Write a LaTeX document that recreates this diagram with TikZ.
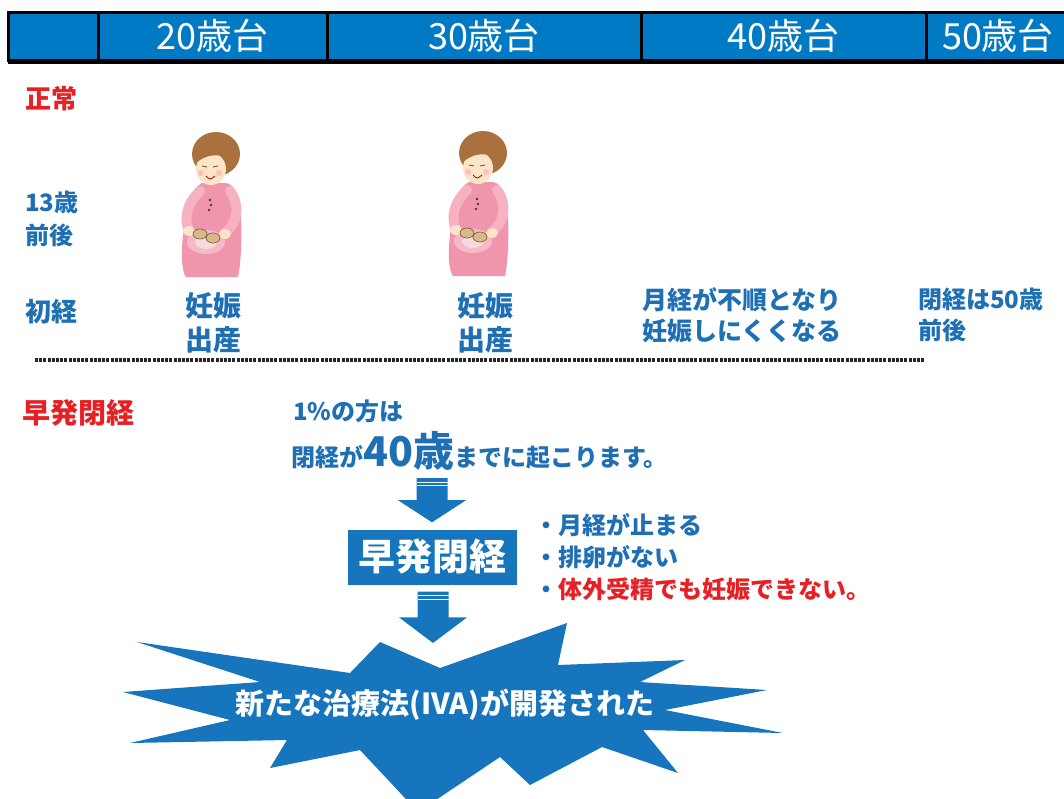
\documentclass[tikz,border=0pt]{standalone}
\usepackage{fontspec}
\setmainfont{Noto Sans CJK JP}
\usetikzlibrary{positioning,calc}

\definecolor{barblue}{RGB}{0,122,196}
\definecolor{boxblue}{RGB}{22,117,189}
\definecolor{txtblue}{RGB}{31,111,180}
\definecolor{alertred}{RGB}{230,32,36}
\definecolor{hair}{RGB}{170,112,62}
\definecolor{skin}{RGB}{252,228,200}
\definecolor{dress}{RGB}{240,150,172}
\definecolor{sleeve}{RGB}{246,178,192}
\definecolor{bootie}{RGB}{214,186,140}

\tikzstyle{cell} = [rectangle, draw=black, line width=3pt, fill=barblue, minimum height=48pt, inner sep=0pt, outer sep=0pt, anchor=north west, text=white, font=\fontsize{36}{40}\selectfont]
\tikzstyle{bluetxt} = [text=txtblue, font=\bfseries\fontsize{24}{33}\selectfont, align=left, anchor=west, inner sep=0pt]
\tikzstyle{redtxt} = [bluetxt, text=alertred, font=\bfseries\fontsize{26}{32}\selectfont]
\tikzstyle{stagetxt} = [bluetxt, font=\bfseries\fontsize{28}{34}\selectfont, align=center, anchor=center]
\tikzstyle{pofbox} = [rectangle, fill=boxblue, minimum width=169pt, minimum height=55pt, text=white, font=\bfseries\fontsize{37}{40}\selectfont]
\tikzstyle{bursttxt} = [text=white, inner sep=0pt, font=\bfseries\fontsize{29}{32}\selectfont]

% mother-to-be, placed at the centre of her hair
\tikzset{mother/.pic={
  \fill[hair] (0,0) ellipse (24 and 22);
  \fill[dress] (-14,29) .. controls (-24,34) and (-30,50) .. (-32,75)
    .. controls (-36,100) and (-34,118) .. (-30,123) -- (22,123)
    .. controls (26,105) and (27,60) .. (22,45)
    .. controls (20,35) and (16,30) .. (10,29) -- cycle;
  \fill[skin] (-5,15) ellipse (15 and 16);
  \fill[hair] (-20,9) .. controls (-18,-8) and (6,-10) .. (15,5)
    .. controls (4,-1) and (-10,0) .. (-20,9) -- cycle;
  \draw[hair!70!black, line width=0.8pt] (-14,12) -- (-9,13) (-3,13) -- (2,12);
  \draw[red!60!black, line width=0.8pt] (-10,22) .. controls (-6,26) .. (-1,22);
  \fill[red!25] (-15,19) circle (3) (3,19) circle (3);
  \draw[sleeve, line width=10pt, line cap=round] (-16,37) .. controls (-28,48) and (-32,62) .. (-28,74);
  \draw[sleeve, line width=10pt, line cap=round] (14,37) .. controls (24,50) and (22,68) .. (10,78);
  \fill[button] (-6,46) circle (1.3) (-5,51) circle (1.3) (-7,56) circle (1.3);
  % glow round the belly
  \fill[white, opacity=0.35] (-10,88) ellipse (19 and 12);
  \fill[white, opacity=0.45] (-10,88) ellipse (11 and 7);
  \fill[skin] (-27,77) ellipse (6 and 5) (9,80) ellipse (6 and 5);
  \filldraw[fill=bootie, draw=hair!70!black, line width=0.6pt] (-16,80) ellipse (7 and 5) (-3,84) ellipse (7 and 5);
}}
\colorlet{button}{hair!50!black}

% block arrow from the top point #1 down to the tip #2
\newcommand{\fatarrow}[2]{%
  \fill[boxblue] let \p1=(#1), \p2=(#2), \n1={0.5*(\y1+\y2)} in
    (\x2-15.5pt,\y1) -- (\x2+15.5pt,\y1) -- (\x2+15.5pt,\n1) -- (\x2+34pt,\n1)
    -- (\x2,\y2) -- (\x2-34pt,\n1) -- (\x2-15.5pt,\n1) -- cycle;
  \draw[white, line width=1pt] let \p1=(#1), \p2=(#2) in
    (\x2-15.5pt,\y1-4pt) -- (\x2+15.5pt,\y1-4pt)
    (\x2-15.5pt,\y1-7.5pt) -- (\x2+15.5pt,\y1-7.5pt);
}

\begin{document}
\begin{tikzpicture}[x=1pt, y=-1pt, node distance=0pt]
    \useasboundingbox (0,0) rectangle (1064,798);
    % Age bar
    \node [cell, minimum width=90pt] (c0) at (8,12) {};
    \node [cell, minimum width=229pt, right=0pt of c0] (c20) {20歳台};
    \node [cell, minimum width=314pt, right=0pt of c20] (c30) {30歳台};
    \node [cell, minimum width=285pt, right=0pt of c30] (c40) {40歳台};
    \node [cell, minimum width=144pt, right=0pt of c40] (c50) {50歳台\hspace{14pt}};
    \draw [line width=5pt] ([yshift=-1pt]c0.south west) -- ([yshift=-1pt]c50.south east);

    % Normal course
    \node [redtxt] (normal) at (25,99) {正常};
    \node [bluetxt] (age13) at (25,219) {13歳\\前後};
    \node [bluetxt, font=\bfseries\fontsize{26}{32}\selectfont] (menarche) at (25,312) {初経};
    \pic at (216,154) {mother};
    \pic at (483,153) {mother};
    \node [stagetxt] (birth1) at (213,323) {妊娠\\出産};
    \node [stagetxt] (birth2) at (485,323) {妊娠\\出産};
    \node [bluetxt, font=\bfseries\fontsize{25}{31}\selectfont] (decline) at (642,315) {月経が不順となり\\妊娠しにくくなる};
    \node [bluetxt, font=\bfseries\fontsize{24}{31}\selectfont] (meno) at (918,315) {閉経は50歳\\前後};
    \draw [line width=4pt, dash pattern=on 3pt off 1.2pt, black!85] (35,360) -- (925,360);

    % Premature menopause
    \node [redtxt, font=\bfseries\fontsize{28}{32}\selectfont] (poflbl) at (22,413) {早発閉経};
    \node [bluetxt] (rate) at (293,411) {1\%の方は};
    \node [bluetxt, anchor=base west] (onset) at (291,466) {閉経が{\fontsize{41}{41}\selectfont 40歳}までに起こります。};
    \node [pofbox] (pof) at (432,557) {早発閉経};
    \node [bluetxt, font=\bfseries\fontsize{24}{32}\selectfont, right=18pt of pof] (signs)
        {・月経が止まる\\・排卵がない\\・\textcolor{alertred}{体外受精でも妊娠できない。}};

    % Burst
    \fill [boxblue] (137,642) -- (350,673) -- (380,642) -- (440,668) -- (567,623)
        -- (558,665) -- (685,660) -- (640,682) -- (767,690) -- (665,710)
        -- (783,733) -- (643,730) -- (678,773) -- (602,747) -- (530,785)
        -- (500,757) -- (418,812) -- (360,750) -- (270,768) -- (287,740)
        -- (130,743) -- (230,720) -- (123,692) -- (260,682) -- cycle;
    \node [bursttxt] (newtx) at (445,705) {新たな治療法(IVA)が開発された};
    \coordinate (bursttop) at (433,643);

    % Arrows
    \coordinate (a1top) at ([yshift=-8pt]onset.south -| pof.north);
    \coordinate (a1tip) at ([yshift=7pt]pof.north);
    \fatarrow{a1top}{a1tip}
    \coordinate (a2top) at ([yshift=-7pt]pof.south);
    \fatarrow{a2top}{bursttop}
\end{tikzpicture}
\end{document}
